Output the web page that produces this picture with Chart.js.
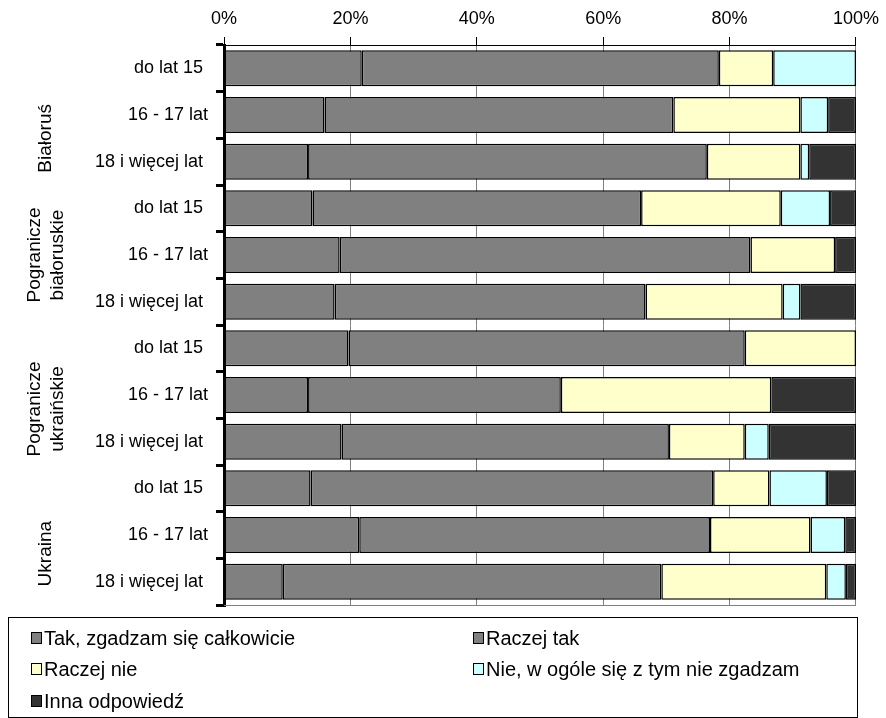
<!DOCTYPE html>
<html>
<head>
<meta charset="utf-8">
<script src="https://cdn.jsdelivr.net/npm/chart.js@4"></script>
<style>
  body { margin: 0; background: #fff; }
  #wrap { position: relative; width: 886px; height: 718px; }
  #legend {
    position: absolute; left: 8px; top: 617px; width: 850px; height: 101px;
    border: 1px solid #000; box-sizing: border-box;
    font: 20px "Liberation Sans", Arial, sans-serif; color: #000;
  }
  .item { position: absolute; display: flex; align-items: center; height: 22px; white-space: nowrap; }
  .box { width: 9px; height: 10px; border: 1px solid #000; margin-right: 2px; }
</style>
</head>
<body>
<div id="wrap">
  <canvas id="chart" width="886" height="718"></canvas>
  <div id="legend"></div>
</div>
<script>
const FONT = '"Liberation Sans", Arial, sans-serif';

// age groups per row
const rowLabels = [
    "do lat 15 ", "16 - 17 lat", "18 i więcej lat ",
    "do lat 15 ", "16 - 17 lat", "18 i więcej lat ",
    "do lat 15 ", "16 - 17 lat", "18 i więcej lat ",
    "do lat 15 ", "16 - 17 lat", "18 i więcej lat "
];
const groupNames = ["Białoruś", "Pogranicze\nbiałoruskie", "Pogranicze\nukraińskie", "Ukraina"];

const seriesNames = [
    "Tak, zgadzam się całkowicie",
    "Raczej tak",
    "Raczej nie",
    "Nie, w ogóle się z tym nie zgadzam",
    "Inna odpowiedź"
];
const seriesColors = ["#808080", "#808080", "#FFFFCC", "#CCFFFF", "#333333"];

// percentages
const takCalkowicie = [21.8, 15.9, 13.3, 14.0, 18.3, 17.5, 19.7, 13.3, 18.6, 13.7, 21.4, 9.3];
const raczejTak     = [56.5, 55.2, 63.1, 52.0, 65.0, 49.2, 62.7, 40.0, 51.8, 63.7, 55.5, 59.9];
const raczejNie     = [8.6, 20.1, 14.8, 22.1, 13.4, 21.7, 17.6, 33.3, 12.0, 8.9, 15.9, 26.1];
const nieWOgole     = [13.1, 4.4, 1.4, 7.8, 0, 2.8, 0, 0, 3.8, 9.1, 5.5, 3.1];
const innaOdp       = [0, 4.4, 7.4, 4.1, 3.3, 8.8, 0, 13.4, 13.8, 4.6, 1.7, 1.6];

const seriesValues = [takCalkowicie, raczejTak, raczejNie, nieWOgole, innaOdp];

// where group captions sit (category index)
const groupAt = [1.5, 4.0, 7.3, 10.4];

// Group captions on the left + bottom frame line
const groupLabels = {
    id: "groupLabels",
    afterDraw(chart) {
        const { ctx, chartArea, scales } = chart;
        ctx.save();
        ctx.strokeStyle = "#808080";
        ctx.lineWidth = 1;
        ctx.beginPath();
        ctx.moveTo(chartArea.left, chartArea.bottom + 0.5);
        ctx.lineTo(chartArea.right, chartArea.bottom + 0.5);
        ctx.stroke();

        ctx.font = "19px " + FONT;
        ctx.fillStyle = "#000";
        ctx.textAlign = "center";
        ctx.textBaseline = "middle";
        groupNames.forEach((name, i) => {
            const lines = name.split("\n");
            const yc = scales.y.getPixelForValue(groupAt[i]);
            ctx.save();
            ctx.translate(46, yc);
            ctx.rotate(-Math.PI / 2);
            lines.forEach((ln, j) => {
                ctx.fillText(ln, 0, (j - (lines.length - 1) / 2) * 23);
            });
            ctx.restore();
        });
        ctx.restore();
    }
};

const chart = new Chart(document.getElementById("chart"), {
    type: "bar",
    data: {
        labels: rowLabels,
        datasets: seriesNames.map((name, i) => ({
            label: name,
            data: seriesValues[i],
            backgroundColor: seriesColors[i],
            borderColor: "#000",
            borderWidth: 1.5,
            borderSkipped: false,
            categoryPercentage: 1,
            barPercentage: 0.77
        }))
    },
    options: {
        indexAxis: "y",
        responsive: false,
        animation: false,
        layout: { padding: { top: 0, right: 27, bottom: 113, left: 0 } },
        plugins: {
            legend: { display: false },
            tooltip: { enabled: false }
        },
        scales: {
            x: {
                position: "top",
                stacked: true,
                min: 0,
                max: 100,
                ticks: {
                    stepSize: 20,
                    color: "#000",
                    padding: 7,
                    font: { family: FONT, size: 18 },
                    callback: v => v + "%"
                },
                grid: { color: "#808080", tickColor: "#000", tickLength: 8, lineWidth: 1 },
                border: { color: "#000", width: 1 },
                afterFit: s => { s.height = 45; }
            },
            y: {
                stacked: true,
                ticks: {
                    color: "#000",
                    padding: 8,
                    autoSkip: false,
                    font: { family: FONT, size: 18 }
                },
                grid: { drawOnChartArea: false, color: "#000", tickLength: 8, lineWidth: 3 },
                border: { color: "#000", width: 3 },
                afterFit: s => { s.width = 224; }
            }
        }
    },
    plugins: [groupLabels]
});

// Legend (two columns, boxed)
const legend = document.getElementById("legend");
const legendPos = [[22, 9], [464, 9], [22, 40], [464, 40], [22, 72]];
seriesNames.forEach((name, i) => {
    const item = document.createElement("div");
    item.className = "item";
    item.style.left = legendPos[i][0] + "px";
    item.style.top = legendPos[i][1] + "px";
    item.innerHTML = `<span class="box" style="background:${seriesColors[i]}"></span>${name}`;
    legend.appendChild(item);
});
</script>
</body>
</html>
